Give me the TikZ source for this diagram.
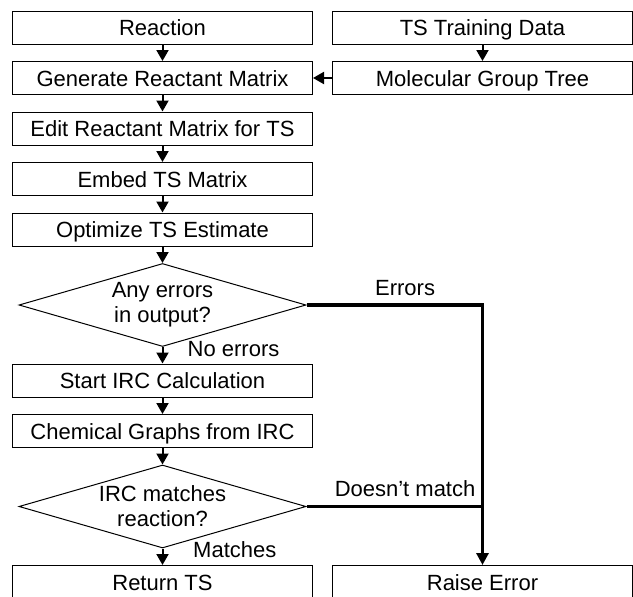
\documentclass[tikz,border=0pt]{standalone}
\usepackage{fontspec}
\setmainfont{Liberation Sans}
\usetikzlibrary{arrows.meta,positioning,shapes.geometric}
\newcommand{\flowfont}{\fontsize{22}{25}\selectfont}
\tikzset{
  stepbox/.style={
    rectangle, draw=black, line width=1pt,
    minimum width=300pt, minimum height=33pt, inner sep=0pt,
    text height=16.5pt, text depth=0pt, font=\flowfont
  },
  checkbox/.style={
    diamond, draw=black, line width=1pt, aspect=3.43,
    minimum width=287pt, minimum height=83pt, inner sep=0pt,
    align=center, font=\flowfont
  },
  flowarrow/.style={-{Triangle[width=12pt,length=11pt]}, line width=2pt},
  failline/.style={line width=3.5pt},
  edgelabel/.style={inner sep=0pt, font=\flowfont},
}

\begin{document}
\begin{tikzpicture}[x=1pt, y=-1pt, node distance=16.5pt]
  \useasboundingbox (0,0) rectangle (633,597);
  \node[stepbox] (rxn) at (162.5,27.5) {Reaction};
  \node[stepbox, below=of rxn] (gen) {Generate Reactant Matrix};
  \node[stepbox, below=of gen] (edit) {Edit Reactant Matrix for TS};
  \node[stepbox, below=of edit] (embed) {Embed TS Matrix};
  \node[stepbox, below=of embed] (opt) {Optimize TS Estimate};
  \node[checkbox, below=of opt] (err) {Any errors\\in output?};
  \node[stepbox, below=of err] (irc) {Start IRC Calculation};
  \node[stepbox, below=of irc] (graph) {Chemical Graphs from IRC};
  \node[checkbox, below=of graph] (match) {IRC matches\\reaction?};
  \node[stepbox, below=of match] (ret) {Return TS};

  \node[stepbox, right=19pt of rxn] (train) {TS Training Data};
  \node[stepbox, below=of train] (tree) {Molecular Group Tree};
  \node[stepbox, right=19pt of ret] (raise) {Raise Error};

  \foreach \a/\b in {rxn/gen,gen/edit,edit/embed,embed/opt,opt/err,err/irc,irc/graph,graph/match,match/ret,train/tree,tree/gen}
    \draw[flowarrow] (\a) -- (\b);

  \node[edgelabel, anchor=base west, xshift=25pt, yshift=-9pt] (noerr) at (err.south) {No errors};
  \node[edgelabel, anchor=base west, xshift=30.5pt, yshift=-8.5pt] (ok) at (match.south) {Matches};

  % failure branches into the error box
  \draw[failline, -{Triangle[width=12pt,length=12pt]}] (err.east)
    -- node[edgelabel, pos=0.56, anchor=base, yshift=10pt] {Errors} (err.east -| raise.north)
    -- (raise.north);
  \draw[failline] (match.east)
    -- node[edgelabel, pos=0.56, anchor=base, yshift=10pt] {Doesn’t match} (match.east -| raise.north);
\end{tikzpicture}
\end{document}
